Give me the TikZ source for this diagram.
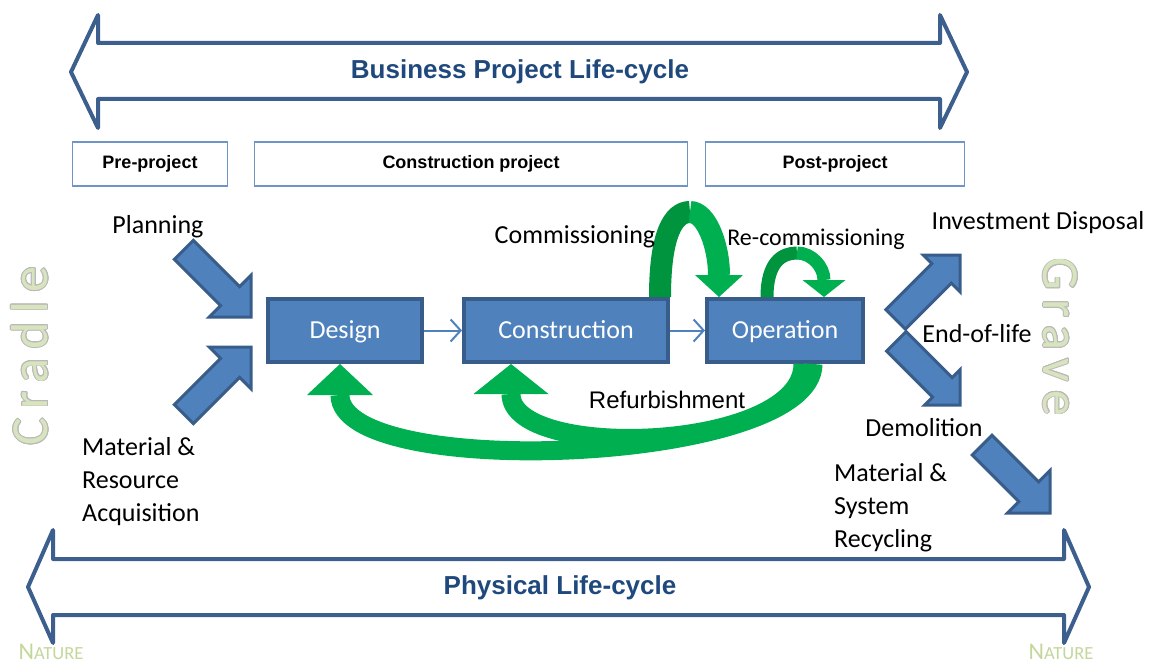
\documentclass[tikz,border=0pt]{standalone}
\usepackage{fontspec}
\setmainfont{Carlito}
\newfontfamily\arialfont{Liberation Sans}
\newfontfamily\spacedfont[LetterSpace=17]{Carlito}
\usepackage{contour}
\usepackage{tikz}
\usetikzlibrary{arrows.meta}

\definecolor{boxblue}{HTML}{4F81BD}
\definecolor{boxedge}{HTML}{385D8A}
\definecolor{lineblue}{HTML}{3C5F8D}
\definecolor{titleblue}{HTML}{1F497D}
\definecolor{phaseedge}{HTML}{7094C4}
\definecolor{ltgreen}{HTML}{00B050}
\definecolor{dkgreen}{HTML}{00943F}
\definecolor{palegreen}{HTML}{D7E4BD}
\definecolor{naturegreen}{HTML}{C3D69B}

% block arrow: tip, angle, length, head half width, head length, shaft half width
\newcommand\blockarrow[6]{%
  \begin{scope}[shift={(#1)},rotate=#2]
    \draw[blockarr] (0,0) -- (-#5,#4) -- (-#5,#6) -- (-#3,#6) -- (-#3,-#6)
      -- (-#5,-#6) -- (-#5,-#4) -- cycle;
  \end{scope}}

\contourlength{0.7pt}

\begin{document}
\begin{tikzpicture}[x=1pt,y=-1pt]
 \tikzset{procbox/.style = {draw=boxedge, fill=boxblue, line width=4pt, text=white,
            font=\fontsize{26}{30}\selectfont, minimum height=63pt,
            text height=17pt, text depth=1pt},
          phasebox/.style = {draw=phaseedge, line width=1.2pt, minimum height=44pt,
            font=\arialfont\bfseries\fontsize{18}{20}\selectfont},
          txt/.style = {font=\fontsize{26}{33}\selectfont, align=left, inner sep=0pt},
          headtext/.style = {font=\arialfont\bfseries\fontsize{26}{30}\selectfont, text=titleblue},
          outlinearr/.style = {draw=lineblue, line width=4pt, line join=round},
          blockarr/.style = {draw=boxedge, fill=boxblue, line width=3pt},
          flowarr/.style = {draw=boxblue, line width=2pt, -{Straight Barb[length=10pt,width=22pt]}},
          endtext/.style = {font=\spacedfont\fontsize{52}{52}\selectfont, text=palegreen},
          naturetext/.style = {font=\fontsize{24}{24}\selectfont, text=naturegreen, inner sep=0pt}}
  \useasboundingbox (0,0) rectangle (1149,666);

  % life-cycle double arrows
  \draw[outlinearr] (71,72) -- (98,15) -- (98,43) -- (940,43) -- (940,15) -- (967,72)
    -- (940,128) -- (940,99) -- (98,99) -- (98,128) -- cycle;
  \node[headtext] (bizlc) at (520,72) {Business Project Life-cycle};
  \draw[outlinearr] (28,587) -- (53,530) -- (53,559) -- (1064,559) -- (1064,530) -- (1089,587)
    -- (1064,643) -- (1064,615) -- (53,615) -- (53,643) -- cycle;
  \node[headtext] (physlc) at (560,588) {Physical Life-cycle};

  % project phases
  \node[phasebox, minimum width=155pt] (pre) at (150,164) {Pre-project};
  \node[phasebox, minimum width=433pt] (cproj) at (471,164) {Construction project};
  \node[phasebox, minimum width=259pt] (post) at (835,164) {Post-project};

  % main process
  \node[procbox, minimum width=154pt] (design) at (345,330.5) {Design};
  \node[procbox, minimum width=204pt] (constr) at (566,330.5) {Construction};
  \node[procbox, minimum width=156pt] (oper) at (785,330.5) {Operation};
  \draw[flowarr] (design) -- (constr);
  \draw[flowarr] (constr) -- (oper);

  % inputs and outputs
  \blockarrow{251,317}{-45}{95}{29.5}{29.5}{13.5}
  \blockarrow{251,347}{45}{95}{29.5}{29.5}{13.5}
  \blockarrow{960,255}{45}{91}{26}{26}{13.8}
  \blockarrow{960,405}{-45}{90}{25}{25}{13.8}
  \blockarrow{1050,513}{-45}{96}{30}{30}{14}

  \node[txt] (plan) at (158,227) {Planning};
  \node[txt, anchor=west] (acq) at (82,482) {Material \&\\Resource\\Acquisition};
  \node[txt] (invest) at (1038,223) {Investment Disposal};
  \node[txt] (eol) at (977,334) {End-of-life};
  \node[txt] (demol) at (924,428) {Demolition};
  \node[txt, anchor=west] (recyc) at (834,508) {Material \&\\System\\Recycling};

  % green loops
  \coordinate (cpeak) at (690,212);
  \coordinate (rpeak) at (797,253);
  \draw[dkgreen, line width=22pt] ([xshift=-10pt]constr.north east)
    .. controls +(0,-62) and +(-17,0) .. (cpeak);
  \draw[ltgreen, line width=22pt, -{Triangle[width=48pt,length=22pt,line width=0pt]}] (cpeak)
    .. controls +(17,0) and +(0,-50) .. ([xshift=14pt]oper.north west);
  \draw[dkgreen, line width=13pt] ([xshift=62pt]oper.north west)
    .. controls +(0,-35) and +(-15,0) .. (rpeak);
  \draw[ltgreen, line width=13pt, -{Triangle[width=43pt,length=17pt,line width=0pt]}] (rpeak)
    .. controls +(15,0) and +(0,-30) .. ([xshift=119pt]oper.north west);
  \draw[ltgreen, line width=19pt, -{Triangle[width=66pt,length=31pt,line width=0pt]}]
    ([xshift=108pt]oper.south west) .. controls +(0,100) and +(0,118) .. ([xshift=-5pt]design.south);
  \draw[ltgreen, line width=19pt, -{Triangle[width=75pt,length=30pt,line width=0pt]}]
    ([xshift=98pt]oper.south west) .. controls +(0,88) and +(0,98) .. ([xshift=-55pt]constr.south);

  \node[txt] (comm) at (575,237) {Commissioning};
  \node[txt, font=\fontsize{24}{28}\selectfont] (recomm) at (816,239) {Re-commissioning};
  \node[txt, font=\arialfont\fontsize{24}{28}\selectfont] (refurb) at (667,400) {Refurbishment};

  % cradle to grave
  \node[endtext, rotate=90] (cradle) at (30,356) {\contour{gray!55}{Cradle}};
  \node[endtext, rotate=-90] (grave) at (1060,337) {\contour{gray!55}{Grave}};
  \node[naturetext] (natl) at (51,652) {N{\fontsize{18.5}{18}\selectfont ATURE}};
  \node[naturetext] (natr) at (1061,652) {N{\fontsize{18.5}{18}\selectfont ATURE}};
\end{tikzpicture}
\end{document}
